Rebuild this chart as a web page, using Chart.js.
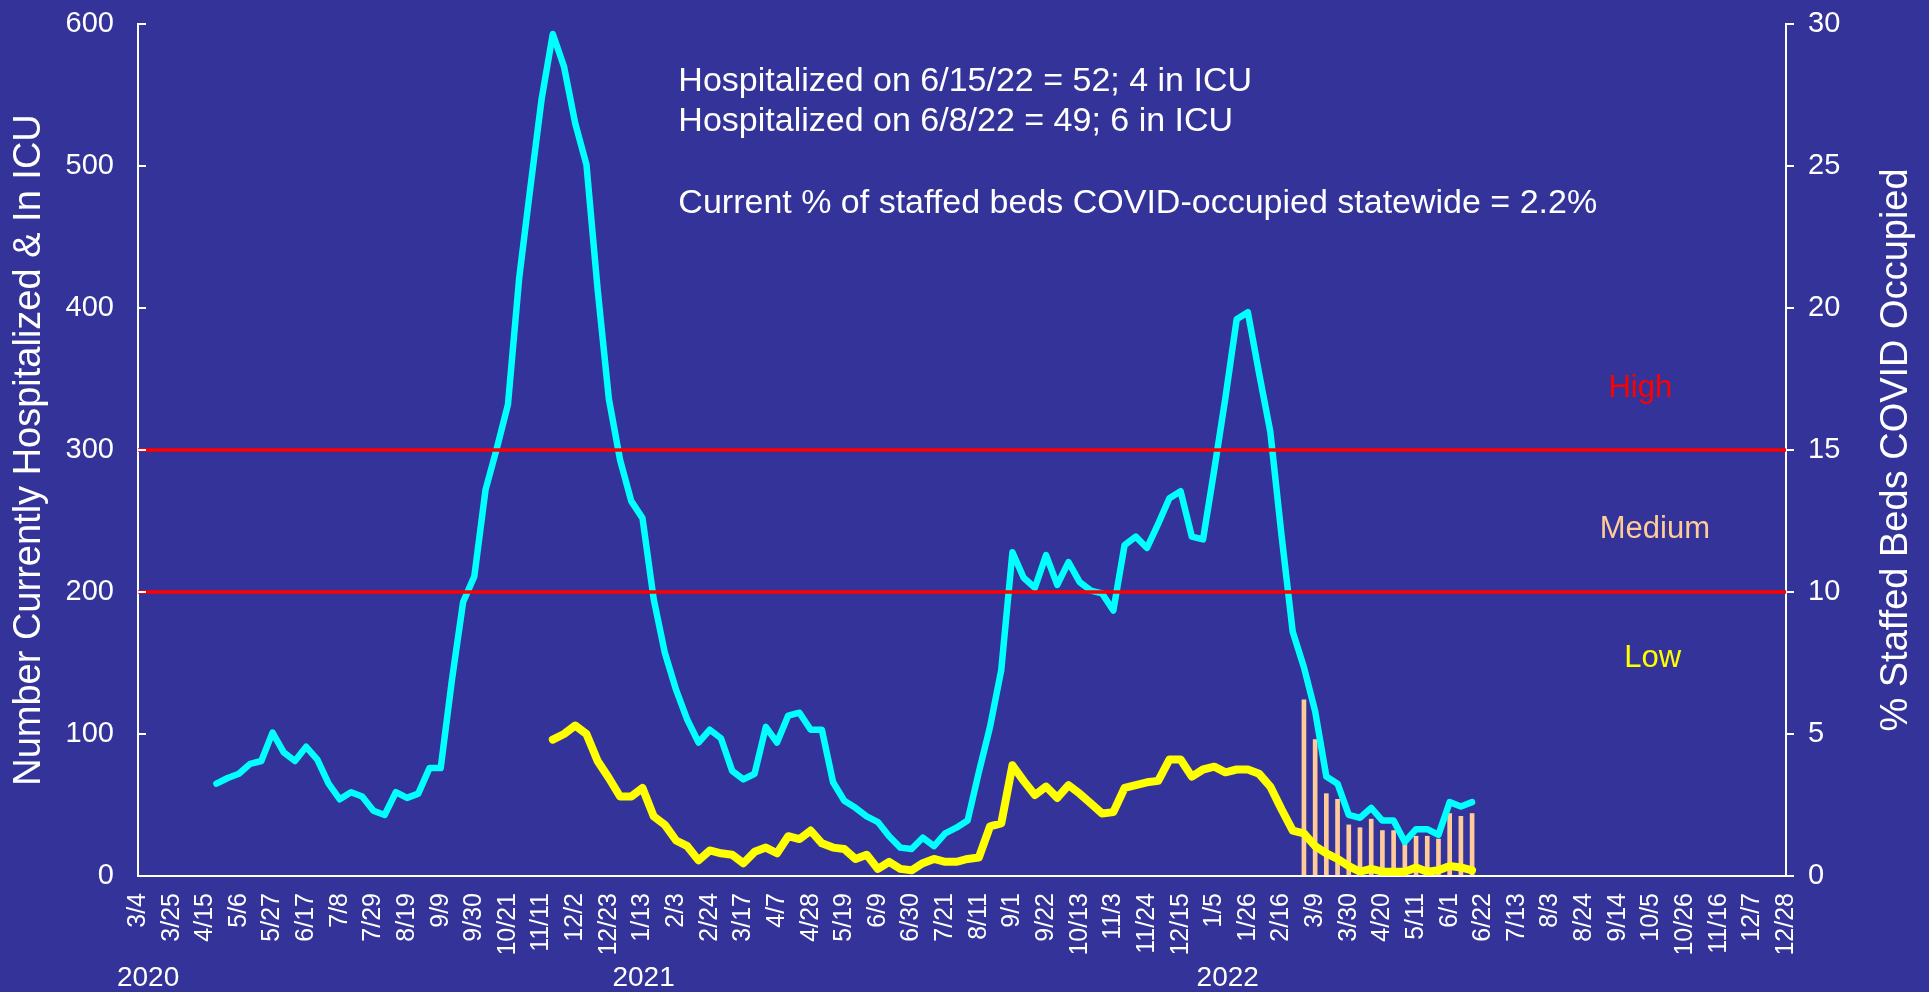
<!DOCTYPE html>
<html>
<head>
<meta charset="utf-8">
<script src="https://cdn.jsdelivr.net/npm/chart.js@4"></script>
<style>
  html, body { margin: 0; padding: 0; background: #333399; }
  canvas { display: block; }
</style>
</head>
<body>
<canvas id="hosp-chart" width="1929" height="992"></canvas>
<script>
// weekly categories, 3/4/2020 .. 12/28/2022
const firstWeek = new Date(2020, 2, 4);
const weekCount = 148;
const weeks = [];
for (let i = 0; i < weekCount; i++) {
    const d = new Date(firstWeek);
    d.setDate(d.getDate() + 7 * i);
    weeks.push((d.getMonth() + 1) + '/' + d.getDate());
}

// currently hospitalized, starts 4/22/2020
const hospStart = 7;
const hospitalized = [
    65, 69, 72, 79, 81, 101, 87, 81, 91, 82,
    65, 54, 59, 56, 46, 43, 59, 55, 58, 76,
    76, 138, 193, 211, 272, 301, 332, 421, 485, 547,
    593, 570, 530, 501, 413, 336, 293, 264, 252, 195,
    157, 131, 110, 94, 103, 97, 74, 68, 72, 105,
    94, 113, 115, 103, 103, 66, 53, 48, 42, 38,
    28, 20, 19, 27, 21, 30, 34, 39, 73, 105,
    145, 228, 210, 203, 226, 205, 221, 207, 201, 199,
    187, 233, 239, 231, 248, 266, 271, 239, 237, 286,
    337, 392, 397, 354, 313, 240, 172, 147, 116, 70,
    65, 43, 41, 48, 39, 39, 24, 33, 33, 29,
    52, 49, 52
];

// in ICU, starts 11/18/2020
const icuStart = 37;
const icu = [
    96, 100, 106, 100, 81, 69, 56, 56, 62, 42,
    36, 25, 21, 11, 18, 16, 15, 9, 17, 20,
    16, 28, 26, 32, 23, 20, 19, 12, 15, 5,
    10, 5, 4, 9, 12, 10, 10, 12, 13, 35,
    37, 78, 67, 57, 63, 55, 64, 58, 51, 44,
    45, 62, 64, 66, 67, 82, 82, 70, 75, 77,
    73, 75, 75, 72, 63, 47, 32, 30, 21, 16,
    12, 7, 3, 5, 3, 3, 3, 6, 3, 4,
    7, 6, 4
];

// % staffed beds COVID occupied, starts 3/2/2022
const bedsStart = 104;
const staffedPct = [6.2, 4.8, 2.9, 2.7, 1.8, 1.7, 2.0, 1.6, 1.6, 1.2, 1.4, 1.4, 1.3, 2.2, 2.1, 2.2];

const thresholds = [200, 300];
const zoneLabels = ['High', 'Medium', 'Low'];
const zoneColors = ['#FF0000', '#FFCC99', '#FFFF00'];
const zoneAt = [[134, 343], [135.3, 244], [135.1, 153]];

const years = ['2020', '2021', '2022'];
const yearAt = [0.9, 45.1, 97.2];

const notes = [
    'Hospitalized on 6/15/22 = 52; 4 in ICU',
    'Hospitalized on 6/8/22 = 49; 6 in ICU',
    'Current % of staffed beds COVID-occupied statewide = 2.2%'
];
const noteAt = [[48.2, 553], [48.2, 525], [48.2, 467]];

const leftTitle = 'Number Currently Hospitalized & In ICU';
const rightTitle = '% Staffed Beds COVID Occupied';

function pad(start, values) {
    const out = new Array(weeks.length).fill(null);
    values.forEach((v, i) => { out[start + i] = v; });
    return out;
}

const FONT = "'Liberation Sans', Arial, sans-serif";
Chart.defaults.font.family = FONT;
Chart.defaults.color = '#FFFFFF';

// fixed box sizes so the plot area sits where the original one does
function fixBox(w, h) {
    return s => {
        if (w) s.width = w;
        if (h) s.height = h;
        s.paddingTop = 0;
        s.paddingBottom = 0;
        s.paddingLeft = 0;
        s.paddingRight = 0;
    };
}

const overlay = {
    id: 'overlay',
    afterDatasetsDraw(chart) {
        const {ctx, chartArea, scales: {y}} = chart;
        ctx.save();
        ctx.strokeStyle = '#FF0000';
        ctx.lineWidth = 3.5;
        thresholds.forEach(v => {
            const py = y.getPixelForValue(v);
            ctx.beginPath();
            ctx.moveTo(chartArea.left, py);
            ctx.lineTo(chartArea.right, py);
            ctx.stroke();
        });
        ctx.restore();
    },
    afterDraw(chart) {
        const {ctx, chartArea, scales: {x, y}} = chart;
        ctx.save();

        // inward tick marks on the left axis
        ctx.strokeStyle = '#FFFFFF';
        ctx.lineWidth = 2;
        y.ticks.forEach(t => {
            const py = y.getPixelForValue(t.value);
            ctx.beginPath();
            ctx.moveTo(chartArea.left, py);
            ctx.lineTo(chartArea.left + 8, py);
            ctx.stroke();
        });

        // axis titles, both reading bottom to top
        const midY = (chartArea.top + chartArea.bottom) / 2;
        ctx.fillStyle = '#FFFFFF';
        ctx.font = '38px ' + FONT;
        ctx.textAlign = 'center';
        ctx.textBaseline = 'alphabetic';
        [[40, leftTitle], [chartArea.right + 121, rightTitle]].forEach(([bx, txt]) => {
            ctx.save();
            ctx.translate(bx, midY);
            ctx.rotate(-Math.PI / 2);
            ctx.fillText(txt, 0, 0);
            ctx.restore();
        });

        // year labels under the date ticks
        ctx.font = '28px ' + FONT;
        ctx.textBaseline = 'middle';
        years.forEach((yr, i) => {
            ctx.fillText(yr, x.getPixelForValue(yearAt[i]), chartArea.bottom + 102);
        });

        // notes
        ctx.font = '34px ' + FONT;
        ctx.textAlign = 'left';
        ctx.textBaseline = 'alphabetic';
        notes.forEach((n, i) => {
            ctx.fillText(n, x.getPixelForValue(noteAt[i][0]), y.getPixelForValue(noteAt[i][1]));
        });

        // zone labels
        ctx.font = '31px ' + FONT;
        ctx.textAlign = 'center';
        ctx.textBaseline = 'middle';
        zoneLabels.forEach((z, i) => {
            ctx.fillStyle = zoneColors[i];
            ctx.fillText(z, x.getPixelForValue(zoneAt[i][0]), y.getPixelForValue(zoneAt[i][1]));
        });

        ctx.restore();
    }
};

const ctx = document.getElementById('hosp-chart').getContext('2d');
window.hospChart = new Chart(ctx, {
    type: 'bar',
    data: {
        labels: weeks,
        datasets: [
            {
                type: 'line',
                label: 'Currently Hospitalized',
                data: pad(hospStart, hospitalized),
                borderColor: '#00FFFF',
                borderWidth: 6.5,
                pointRadius: 0,
                tension: 0,
                borderCapStyle: 'round',
                borderJoinStyle: 'round',
                yAxisID: 'y',
                order: 1
            },
            {
                type: 'line',
                label: 'In ICU',
                data: pad(icuStart, icu),
                borderColor: '#FFFF00',
                borderWidth: 8,
                pointRadius: 0,
                tension: 0,
                borderCapStyle: 'round',
                borderJoinStyle: 'round',
                yAxisID: 'y',
                order: 2
            },
            {
                type: 'bar',
                label: '% Staffed Beds COVID Occupied',
                data: pad(bedsStart, staffedPct),
                backgroundColor: '#FFCC99',
                barThickness: 4,
                yAxisID: 'y1',
                order: 3
            }
        ]
    },
    options: {
        responsive: false,
        animation: false,
        layout: { padding: { top: 24, left: 0, right: 0, bottom: 0 } },
        plugins: {
            legend: { display: false },
            tooltip: { enabled: false }
        },
        scales: {
            x: {
                offset: false,
                grid: { display: false, drawTicks: false },
                border: { color: '#FFFFFF', width: 2 },
                ticks: {
                    color: '#FFFFFF',
                    autoSkip: false,
                    minRotation: 90,
                    maxRotation: 90,
                    padding: 17,
                    font: { size: 25 },
                    callback: (v, i) => (i % 3 === 0 ? weeks[i] : '')
                },
                afterFit: fixBox(0, 116)
            },
            y: {
                position: 'left',
                min: 0,
                max: 600,
                grid: { display: false, drawTicks: false },
                border: { color: '#FFFFFF', width: 2 },
                ticks: { stepSize: 100, color: '#FFFFFF', padding: 24, font: { size: 29 } },
                afterFit: fixBox(138, 0)
            },
            y1: {
                position: 'right',
                min: 0,
                max: 30,
                grid: { drawOnChartArea: false, drawTicks: true, tickLength: 8, color: '#FFFFFF', lineWidth: 2 },
                border: { color: '#FFFFFF', width: 2 },
                ticks: { stepSize: 5, color: '#FFFFFF', padding: 14, font: { size: 29 } },
                afterFit: fixBox(143, 0)
            }
        }
    },
    plugins: [overlay]
});
</script>
</body>
</html>
